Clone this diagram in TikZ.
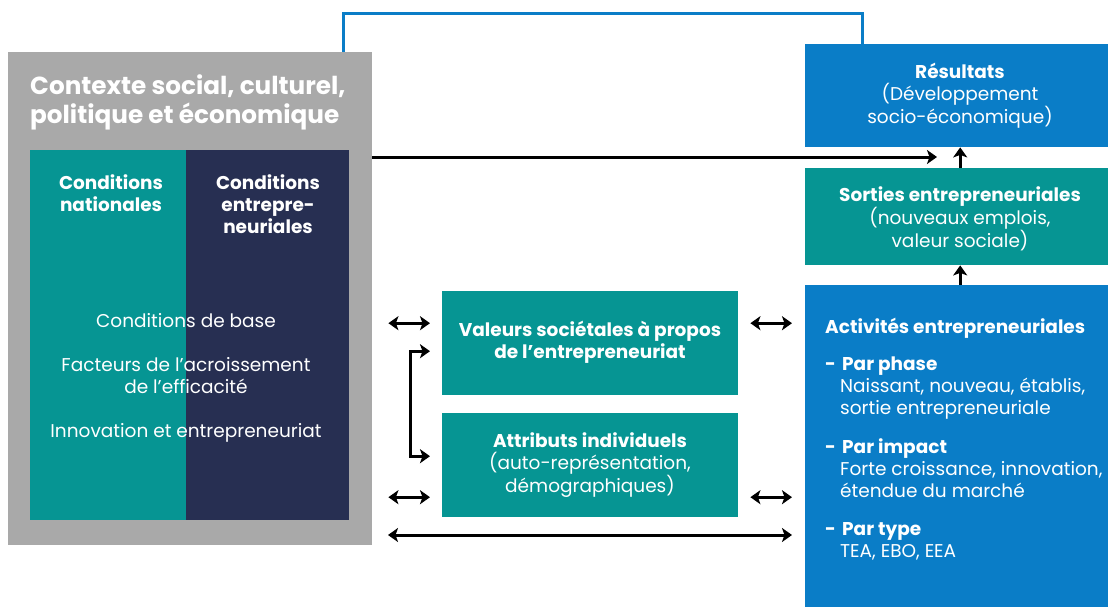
\documentclass[tikz,border=0pt]{standalone}
\usepackage{fontspec}
\setmainfont{Poppins}
\usepackage{xcolor}
\usetikzlibrary{arrows.meta,positioning}
\definecolor{gemgrey}{HTML}{A9A9A9}
\definecolor{gemteal}{HTML}{069593}
\definecolor{gemnavy}{HTML}{272F52}
\definecolor{gemblue}{HTML}{0A7DC7}

\begin{document}
\begin{tikzpicture}[x=1pt,y=-1pt,
    panel/.style={fill=#1,draw=none,inner sep=0pt,anchor=north west},
    txt/.style={text=white,align=center,inner sep=0pt,font=\fontsize{18.5}{22}\selectfont},
    link/.style={line width=3pt,{Stealth[length=10pt,width=14pt,inset=2.5pt]}-{Stealth[length=10pt,width=14pt,inset=2.5pt]}},
    push/.style={line width=3pt,-{Stealth[length=10pt,width=14pt,inset=2.5pt]}}]
    \useasboundingbox (0,0) rectangle (1108,607);

    % Context block on the left
    \node[panel=gemgrey,minimum width=364pt,minimum height=493pt] (contexte) at (8,52) {};
    \node[panel=gemteal,minimum width=156pt,minimum height=370pt] (national) at (30,150) {};
    \node[panel=gemnavy,minimum width=163pt,minimum height=370pt] (cadre) at (186,150) {};
    \node[txt,anchor=north west,align=left,font=\fontsize{24.7}{29}\selectfont\bfseries] (titre) at (30,75)
        {Contexte social, culturel,\\politique et économique};
    \node[txt,font=\fontsize{18.5}{22}\selectfont\bfseries] (natlab) at (111,193) {Conditions\\nationales};
    \node[txt,font=\fontsize{18.5}{22}\selectfont\bfseries] (cadlab) at (268,204) {Conditions\\entrepre-\\neuriales};
    \foreach \name/\y/\label in {base/321/{Conditions de base},
        facteurs/376/{Facteurs de l’acroissement\\de l’efficacité},
        innov/433/{Innovation et entrepreneuriat}} {
        \node[txt] (\name) at (186,\y) {\label};
    }

    % Middle boxes
    \node[panel=gemteal,minimum width=296pt,minimum height=104pt] (valeurs) at (442,291) {};
    \node[panel=gemteal,minimum width=296pt,minimum height=104pt] (attributs) at (442,413) {};
    \node[txt,font=\fontsize{18.5}{22}\selectfont\bfseries] at (590,342) {Valeurs sociétales à propos\\de l’entrepreneuriat};
    \node[txt] at (590,465) {\textbf{Attributs individuels}\\(auto-représentation,\\démographiques)};

    % Right column
    \node[panel=gemblue,minimum width=303pt,minimum height=103pt] (resultats) at (805,44) {};
    \node[panel=gemteal,minimum width=303pt,minimum height=97pt] (sorties) at (805,168) {};
    \node[panel=gemblue,minimum width=303pt,minimum height=322pt] (activites) at (805,285) {};
    \node[txt] at (960,96) {\textbf{Résultats}\\(Développement\\socio-économique)};
    \node[txt] at (960,219) {\textbf{Sorties entrepreneuriales}\\(nouveaux emplois,\\valeur sociale)};
    \node[txt,anchor=north west,align=left] (actlab) at (825,318) {%
        \textbf{Activités entrepreneuriales}\\[15pt]
        \makebox[17pt][l]{\textbf{-}}\textbf{Par phase}\\
        \hspace*{15pt}Naissant, nouveau, établis,\\
        \hspace*{15pt}sortie entrepreneuriale\\[17pt]
        \makebox[17pt][l]{\textbf{-}}\textbf{Par impact}\\
        \hspace*{15pt}Forte croissance, innovation,\\
        \hspace*{15pt}étendue du marché\\[16pt]
        \makebox[17pt][l]{\textbf{-}}\textbf{Par type}\\
        \hspace*{15pt}TEA, EBO, EEA};

    % Connectors
    \coordinate (loopL) at (343,14);
    \coordinate (loopR) at (862,14);
    \draw[gemblue,line width=3pt] (loopL |- contexte.north) -- (loopL) -- (loopR) -- (loopR |- resultats.north);
    \coordinate (feed) at (937,157);
    \draw[push] (contexte.east |- feed) -- (feed);
    \draw[push] ([xshift=3.5pt]sorties.north) -- ([xshift=3.5pt]resultats.south);
    \draw[push] ([xshift=3.5pt]activites.north) -- ([xshift=3.5pt]sorties.south);

    \draw[link] ([yshift=20pt]valeurs.west -| contexte.east) ++(16,0) -- ([yshift=20pt,xshift=-12pt]valeurs.west);
    \draw[link] ([yshift=20pt,xshift=12pt]valeurs.east) -- ([yshift=20pt,xshift=-13pt]valeurs.east -| activites.west);
    \draw[link] ([yshift=-32pt]attributs.west -| contexte.east) ++(16,0) -- ([yshift=-32pt,xshift=-12pt]attributs.west);
    \draw[link] ([yshift=-32pt,xshift=12pt]attributs.east) -- ([yshift=-32pt,xshift=-13pt]attributs.east -| activites.west);
    \coordinate (bas) at (388,535);
    \draw[link] (bas) -- ([xshift=-13pt]activites.west |- bas);
    \draw[link] ([xshift=-12pt,yshift=-8pt]valeurs.west) -- ++(-20,0) |- ([xshift=-12pt,yshift=9pt]attributs.west);
\end{tikzpicture}
\end{document}
